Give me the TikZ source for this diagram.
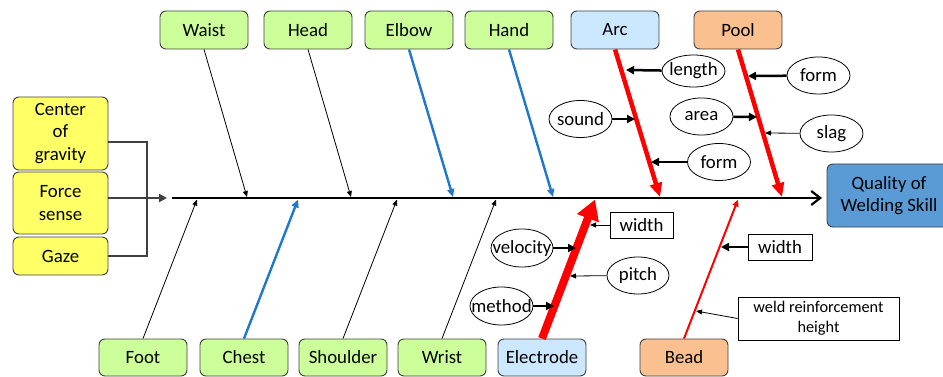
\documentclass[tikz,border=0pt]{standalone}
\usepackage{fontspec}
\setmainfont{Carlito}
\usetikzlibrary{arrows.meta,shapes.geometric}
\definecolor{gfill}{HTML}{CCFF99}
\definecolor{bfill}{HTML}{CCE8FF}
\definecolor{ofill}{HTML}{FAC090}
\definecolor{yfill}{HTML}{FFFF66}
\definecolor{qfill}{HTML}{5B9BD5}
\definecolor{bline}{HTML}{1F78C8}
\definecolor{gline}{HTML}{404040}
\newcommand{\zw}[1]{\makebox[0pt]{#1}}
\tikzset{
  lbl/.style={font=\fontsize{18.8}{22.5}\selectfont},
  box/.style={lbl, draw=gline, line width=0.9pt, rounded corners=6pt, minimum width=88pt, minimum height=38pt, inner sep=0pt, align=center},
  greenbox/.style={box, fill=gfill},
  bluebox/.style={box, fill=bfill},
  orangebox/.style={box, fill=ofill},
  yellowbox/.style={box, fill=yfill, minimum width=95pt},
  oval/.style={lbl, ellipse, draw, line width=0.8pt, fill=white, minimum width=63pt, minimum height=37pt, inner sep=0pt},
  rbox/.style={lbl, draw, line width=0.8pt, fill=white, inner sep=0pt, align=center},
  thinarr/.style={line width=0.8pt, -{Triangle[length=6pt,width=5pt]}},
  thickarr/.style={line width=2.5pt, -{Triangle[length=8pt,width=8pt]}},
  bluearr/.style={bline, line width=2.4pt, -{Triangle[length=8pt,width=7pt]}},
  redarr/.style={red, line width=4.5pt, -{Triangle[length=14pt,width=12pt]}},
  grayline/.style={gline, line width=2.8pt},
}
\begin{document}
\begin{tikzpicture}[x=1pt,y=-1pt]
\useasboundingbox (0,0) rectangle (943,377);
% spine
\coordinate (s0) at (172,198);
\coordinate (s1) at (822,198);
\node[box, fill=qfill, minimum width=124pt, minimum height=63pt] (q) at (889,195.5) {Quality of\\Welding Skill};
\draw[line width=2.8pt, -{Straight Barb[length=9pt,width=14pt,line width=2.2pt]}] (s0) -- (s1);
% left boxes
\node[yellowbox, minimum height=73pt] (cog) at (60.5,133.5) {Center\\of\\gravity};
\node[yellowbox, minimum height=62pt] (fs) at (60.5,203) {Force\\sense};
\node[yellowbox, minimum height=38pt] (gaze) at (60.5,256) {Gaze};
\coordinate (v1) at (147,142);
\draw[grayline] (cog.east |- v1) -- (v1) |- (gaze.east);
\coordinate (ft) at (167,198);
\draw[grayline, -{Triangle[length=8pt,width=8pt]}] (fs.east |- ft) -- (ft);
% top boxes
\node[greenbox] (waist) at (204,30) {Waist};
\node[greenbox] (head) at (308,30) {Head};
\node[greenbox] (elbow) at (409,30) {Elbow};
\node[greenbox] (hand) at (509,30) {Hand};
\node[bluebox] (arc) at (615,30) {Arc};
\node[orangebox] (pool) at (738,30) {Pool};
% bottom boxes
\node[greenbox, minimum height=37pt] (foot) at (143,357.5) {Foot};
\node[greenbox, minimum height=37pt] (chest) at (244,357.5) {Chest};
\node[greenbox, minimum height=37pt] (shoulder) at (343,357.5) {Shoulder};
\node[greenbox, minimum height=37pt] (wrist) at (442,357.5) {Wrist};
\node[bluebox, minimum height=37pt] (electrode) at (542,357.5) {Electrode};
\node[orangebox, minimum height=37pt] (bead) at (684,357.5) {Bead};
% spine tips
\coordinate (tw) at (247,197);
\coordinate (th) at (351,197);
\coordinate (te) at (453,197);
\coordinate (tha) at (553,197);
\coordinate (ta) at (660,197);
\coordinate (tp) at (782,197);
\coordinate (bf) at (197,199.5);
\coordinate (bc) at (298,199.5);
\coordinate (bs) at (397,199.5);
\coordinate (bw) at (496,199.5);
\coordinate (be) at (595,199.5);
\coordinate (bb) at (738,199.5);
% branches
\draw[thinarr] (waist.south) -- (tw);
\draw[thinarr] (head.south) -- (th);
\draw[bluearr] (elbow.south) -- (te);
\draw[bluearr] (hand.south) -- (tha);
\draw[redarr] (arc.south) -- (ta);
\draw[redarr] (pool.south) -- (tp);
\draw[thinarr] (foot.north) -- (bf);
\draw[bluearr] (chest.north) -- (bc);
\draw[thinarr] (shoulder.north) -- (bs);
\draw[thinarr] (wrist.north) -- (bw);
\draw[red, line width=8pt, -{Triangle[length=20pt,width=22pt]}] (electrode.north) -- (be);
\draw[red, line width=2pt, -{Triangle[length=7pt,width=6pt]}] (bead.north) -- (bb);
% arc sub-causes
\node[oval, minimum height=32pt] (len) at (693.5,71) {\zw{length}};
\node[oval] (sound) at (580.5,119) {\zw{sound}};
\node[oval] (aform) at (719,162) {\zw{form}};
\coordinate (alen) at (626,70);
\coordinate (asnd) at (635,119);
\coordinate (afrm) at (651,162);
\draw[thickarr] (len) -- (alen);
\draw[thickarr] (sound) -- (asnd);
\draw[thickarr] (aform) -- (afrm);
% pool sub-causes
\node[oval] (pform) at (818.5,75.5) {\zw{form}};
\node[oval] (area) at (701.5,116.5) {\zw{area}};
\node[oval] (slag) at (831.5,133.5) {\zw{slag}};
\coordinate (pfrm) at (748,76);
\coordinate (pare) at (757,117);
\coordinate (pslg) at (765,133);
\draw[thickarr] (pform) -- (pfrm);
\draw[thickarr] (area) -- (pare);
\draw[thinarr] (slag) -- (pslg);
% electrode sub-causes
\node[rbox, minimum width=63pt, minimum height=26pt] (ewid) at (641.5,225) {width};
\node[oval, minimum width=62pt, minimum height=38pt] (vel) at (522,248) {\zw{velocity}};
\node[oval, minimum width=62pt] (pitch) at (638,275.5) {\zw{pitch}};
\node[oval, minimum height=38pt] (meth) at (501.5,306) {\zw{method}};
\coordinate (eewd) at (590,225);
\coordinate (evel) at (576,248);
\coordinate (epit) at (570,276);
\coordinate (emet) at (554,306);
\draw[thinarr] (ewid) -- (eewd);
\draw[thickarr] (vel) -- (evel);
\draw[thinarr] (pitch) -- (epit);
\draw[thickarr] (meth) -- (emet);
% bead sub-causes
\node[rbox, minimum width=64pt, minimum height=26pt] (bwid) at (780,247) {width};
\node[rbox, minimum width=161pt, minimum height=43pt, font=\fontsize{16.3}{20}\selectfont] (weld) at (818.5,318.5) {weld reinforcement\\height};
\coordinate (bbwd) at (721,247);
\coordinate (bwld) at (696,311);
\draw[thickarr] (bwid) -- (bbwd);
\draw[thinarr] (weld.west) -- (bwld);
\end{tikzpicture}
\end{document}
